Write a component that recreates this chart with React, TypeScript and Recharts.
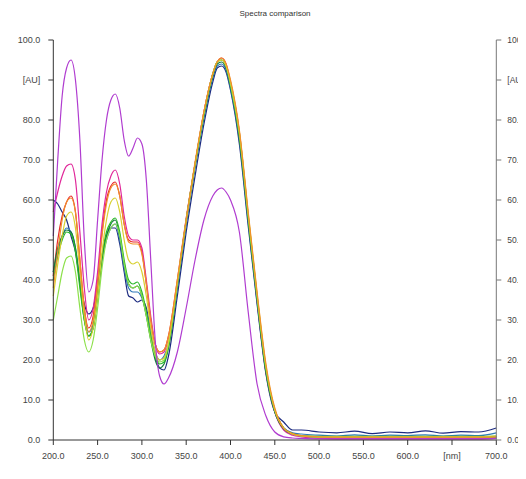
import { LineChart, Line, XAxis, YAxis } from "recharts";

// wavelength grid (nm)
const wavelengths = [
  200, 205, 210, 215, 220, 225, 230, 235, 240, 245, 250, 255, 260, 265, 270, 275, 280, 285, 290, 295,
  300, 305, 310, 315, 320, 325, 330, 340, 350, 360, 370, 380, 385, 390, 395, 400, 410, 420, 430, 440,
  450, 460, 470, 480, 500, 520, 540, 560, 580, 600, 620, 640, 660, 680, 700,
];

const violet = [
  51, 70, 86, 93, 95, 90, 75, 50, 37, 40, 55, 70, 80, 85, 86.5, 83, 75, 71, 73, 75.5,
  74, 65, 45, 25, 16, 14, 15.5, 22, 33, 45, 55, 61, 62.5, 63, 62, 60, 52, 32, 14, 6,
  2, 0.8, 0.5, 0.4, 0.3, 0.3, 0.3, 0.3, 0.3, 0.3, 0.3, 0.3, 0.3, 0.3, 0.4,
];
const magenta = [
  57, 62, 66, 68.5, 69, 65, 52, 38, 30, 33, 42, 54, 62, 66, 67.5, 64, 56, 51, 50, 50,
  48, 40, 31, 24, 21.5, 22, 25.5, 39, 55, 69, 82, 91.5, 94.5, 95, 93.5, 89, 76, 55.5, 35, 17,
  7, 2.5, 1.2, 0.8, 0.4, 0.3, 0.3, 0.3, 0.3, 0.3, 0.3, 0.3, 0.3, 0.3, 0.4,
];
const red = [
  41, 50, 56, 59.5, 61, 57, 45, 33, 28, 31, 40, 52, 60, 63.5, 64.5, 61, 54, 50, 49.5, 49.5,
  47, 39, 30, 24, 22, 22.5, 26, 40, 55.5, 69, 82, 91.5, 94.5, 95.5, 94, 89.5, 77, 56, 36, 18,
  7.5, 3, 1.5, 1, 0.6, 0.5, 0.5, 0.5, 0.5, 0.5, 0.5, 0.5, 0.5, 0.5, 0.6,
];
const orange = [
  38, 47, 55, 59.5, 60.5, 57, 45, 33, 27, 30, 39, 51, 59, 63, 64, 61, 54, 49.5, 49, 49,
  46.5, 39, 30, 24, 22, 22.5, 26, 40, 55, 69.5, 82, 91.5, 94.5, 95.5, 94, 90, 77.5, 57, 37, 19,
  8, 3, 1.6, 1.1, 0.8, 0.7, 0.7, 0.7, 0.7, 0.7, 0.7, 0.7, 0.7, 0.7, 0.8,
];
const yellow = [
  36, 44, 51, 56, 57, 53, 42, 31, 25, 28, 36, 47, 55, 59.5, 60.5, 57, 50, 45, 44, 44.5,
  42, 36, 28, 22, 20, 20.5, 24.5, 39.5, 55, 69, 82, 91.5, 94.5, 95, 93.5, 89.5, 77, 56.5, 36.5, 18.5,
  7.5, 3, 1.5, 1, 0.8, 0.8, 0.8, 0.8, 0.8, 0.8, 0.8, 0.8, 0.8, 0.8, 1,
];
const navy = [
  60, 59, 57, 55, 51, 47, 40, 34, 31.5, 33, 39, 46, 51, 53, 53, 49, 42, 36, 35.5, 34.5,
  35, 33, 27, 21, 18, 17.5, 21, 36, 52, 66, 79, 89.5, 93, 93.5, 92, 87.5, 74, 53.5, 34, 16.5,
  7, 4.5, 2.5, 2.5, 2, 1.8, 2.2, 1.6, 2, 1.8, 2.3, 1.7, 2.1, 2, 3,
];
const steel = [
  42, 47, 51, 53, 52, 48, 40, 31, 27, 29, 37, 45, 50, 53, 54, 50, 43, 38, 37, 37,
  35.5, 32, 27, 22, 20, 21, 24, 38, 54, 68, 80.5, 90.5, 93.5, 94, 92.5, 88, 75, 54.5, 34.5, 17,
  7, 3, 1.8, 1.5, 1.2, 1, 1.3, 1, 1.2, 1.1, 1.3, 1, 1.2, 1.1, 1.8,
];
const darkGreen = [
  42, 48, 51, 52.5, 52, 48, 39, 30, 26, 28, 36, 45, 51, 54, 55, 51, 44, 39, 38, 38.5,
  36, 31, 25, 20, 18, 19, 23, 38.5, 54.5, 68.5, 81, 91, 94, 94.5, 93, 88.5, 75.5, 55, 35, 17,
  7, 2.8, 1.5, 1, 0.8, 0.7, 0.7, 0.7, 0.7, 0.7, 0.7, 0.7, 0.7, 0.7, 0.8,
];
const green = [
  40, 46, 50, 52, 51.5, 47, 38, 30, 26, 28, 36, 46, 52, 54.5, 55.5, 52, 45, 40, 39, 39.5,
  37, 32, 26, 21, 19, 19.5, 23.5, 39, 55, 69, 81.5, 91.5, 94.5, 95, 93.5, 89, 76, 55.5, 35.5, 17.5,
  7.5, 3, 1.6, 1.1, 0.9, 0.9, 0.9, 0.9, 0.9, 0.9, 0.9, 0.9, 0.9, 0.9, 1,
];
const lightGreen = [
  30, 36, 42, 45.5, 46, 42, 33, 25, 22, 25, 33, 43, 50, 53, 54, 51, 44, 39, 38, 38.5,
  36, 31, 25, 21, 19.5, 20, 24, 39, 55, 69, 81.5, 91.5, 94.5, 95, 93.5, 89, 76.5, 56, 36, 18,
  7.5, 3, 1.5, 1, 0.7, 0.7, 0.7, 0.7, 0.7, 0.7, 0.7, 0.7, 0.7, 0.7, 0.8,
];

const xTicks = [200, 250, 300, 350, 400, 450, 500, 550, 600, 650, 700];
const yTicks = [0, 10, 20, 30, 40, 50, 60, 70, 80, 90, 100];

const series = [
  { key: "navy", values: navy, color: "#1c2a80" },
  { key: "steel", values: steel, color: "#2f78b8" },
  { key: "red", values: red, color: "#e82a2a" },
  { key: "magenta", values: magenta, color: "#e0289a" },
  { key: "darkGreen", values: darkGreen, color: "#147a3c" },
  { key: "green", values: green, color: "#28b828" },
  { key: "lightGreen", values: lightGreen, color: "#8ce04a" },
  { key: "yellow", values: yellow, color: "#d8d030" },
  { key: "orange", values: orange, color: "#f0902a" },
  { key: "violet", values: violet, color: "#b03cd0" },
];

const rows = wavelengths.map((wl, i) => {
  const row: any = { wl };
  series.forEach((s) => (row[s.key] = s.values[i]));
  return row;
});

const font = "'Liberation Sans', Arial, sans-serif";
const tickStyle = { fontSize: 9, fill: "#444", fontFamily: font };
const rightTickStyle = { fontSize: 8.5, fill: "#444", fontFamily: font };
const fmtX = (v: number) => (v === 650 ? "[nm]" : v.toFixed(1));
const fmtY = (v: number) => (v === 90 ? "[AU]" : v.toFixed(1));

const App = () => {
  return (
    <div style={{ position: "relative", width: 518, height: 460 }}>
      <div
        style={{
          position: "absolute",
          left: 0,
          width: 534,
          top: 1,
          textAlign: "center",
          fontSize: 8,
          fontFamily: font,
          color: "#333",
        }}
      >
        Spectra comparison
      </div>
      <LineChart
        width={518}
        height={460}
        data={rows}
        margin={{ top: 32, right: 0, bottom: 0, left: 0 }}
      >
        <XAxis
          dataKey="wl"
          type="number"
          domain={[200, 700]}
          ticks={xTicks}
          interval={0}
          tickFormatter={fmtX}
          height={28}
          tickSize={5}
          tickMargin={8}
          stroke="#333"
          tick={tickStyle}
        />
        <XAxis
          xAxisId="top"
          orientation="top"
          dataKey="wl"
          type="number"
          domain={[200, 700]}
          ticks={xTicks}
          interval={0}
          height={0}
          tickSize={5}
          tick={() => <g />}
          stroke="#888"
        />
        <YAxis
          domain={[0, 100]}
          ticks={yTicks}
          interval={0}
          tickFormatter={fmtY}
          width={45.3}
          tickSize={5}
          tickMargin={8}
          stroke="#333"
          tick={tickStyle}
        />
        <YAxis
          yAxisId="right"
          orientation="right"
          domain={[0, 100]}
          ticks={yTicks}
          interval={0}
          tickFormatter={fmtY}
          width={29.7}
          tickSize={5}
          tickMargin={6}
          stroke="#777"
          tick={rightTickStyle}
        />
        {/* invisible series so the top and right axes get a scale */}
        <Line
          xAxisId="top"
          yAxisId="right"
          dataKey="navy"
          stroke="none"
          dot={false}
          activeDot={false}
          legendType="none"
          isAnimationActive={false}
        />
        {series.map((s) => (
          <Line
            key={s.key}
            type="monotone"
            dataKey={s.key}
            stroke={s.color}
            strokeWidth={1.2}
            dot={false}
            isAnimationActive={false}
          />
        ))}
      </LineChart>
    </div>
  );
};

export default App;
